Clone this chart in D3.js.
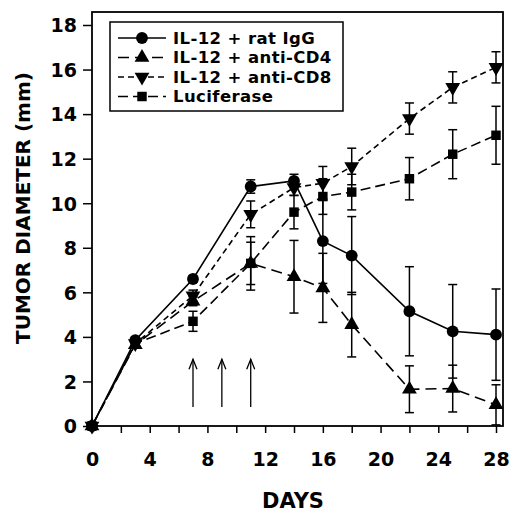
<!DOCTYPE html>
<html>
<head>
<meta charset="utf-8">
<script src="https://cdn.jsdelivr.net/npm/d3@7"></script>
<style>
  body { margin: 0; background: #fff; }
  svg text { font-family: "DejaVu Sans", "Liberation Sans", Arial, sans-serif; font-weight: bold; fill: #000; }
</style>
</head>
<body>
<div id="chart"></div>
<script>
const width = 509;
const height = 512;

// data (tumor diameter, mm)
const days = [0, 3, 7, 11, 14, 16, 18, 22, 25, 28];

const igg    = [0, 3.85, 6.6, 10.75, 11.0, 8.3, 7.65, 5.15, 4.25, 4.1];
const iggErr = [0, 0.15, 0.15, 0.3, 0.3, 1.9, 1.75, 2.0, 2.1, 2.05];

const cd4    = [0, 3.65, 5.6, 7.3, 6.7, 6.2, 4.55, 1.65, 1.68, 0.95];
const cd4Err = [0, 0.1, 0.2, 1.2, 1.63, 1.55, 1.45, 1.05, 1.05, 0.9];

const cd8    = [0, 3.7, 5.85, 9.5, 10.7, 10.9, 11.65, 13.8, 15.2, 16.1];
const cd8Err = [0, 0.1, 0.25, 0.6, 0.35, 0.75, 0.82, 0.7, 0.7, 0.7];

const luc    = [0, 3.7, 4.7, 7.3, 9.6, 10.3, 10.5, 11.1, 12.2, 13.05];
const lucErr = [0, 0.1, 0.45, 0.95, 0.75, 0.8, 0.8, 0.95, 1.1, 1.3];

const arrowDays = [7, 9, 11];
const yTicks = [0, 2, 4, 6, 8, 10, 12, 14, 16, 18];
const xTicks = [0, 2, 4, 6, 8, 10, 12, 14, 16, 18, 20, 22, 24, 26, 28];

const series = [
  { name: "IL-12 + rat IgG",  vals: igg, err: iggErr, sym: d3.symbolCircle,   size: 110, rot: 0,   dash: null },
  { name: "IL-12 + anti-CD4", vals: cd4, err: cd4Err, sym: d3.symbolTriangle, size: 95,  rot: 0,   dash: "11,6" },
  { name: "IL-12 + anti-CD8", vals: cd8, err: cd8Err, sym: d3.symbolTriangle, size: 95,  rot: 180, dash: "6,4" },
  { name: "Luciferase",       vals: luc, err: lucErr, sym: d3.symbolSquare,   size: 90,  rot: 0,   dash: "10,5" }
];

const frame = { left: 92, right: 503, top: 12, bottom: 426 };

const x = d3.scaleLinear().domain([0, 28]).range([92, 496]);
const y = d3.scaleLinear().domain([0, 18]).range([426, 25]);

const svg = d3.select("#chart").append("svg")
  .attr("width", width)
  .attr("height", height);

// axes
const yAxis = d3.axisLeft(y).tickValues(yTicks).tickSize(9).tickPadding(6).tickFormat(d3.format("d"));
const xAxis = d3.axisBottom(x).tickValues(xTicks).tickSize(7).tickPadding(20)
  .tickFormat(d => d % 4 === 0 ? d : "");

const gy = svg.append("g").attr("transform", `translate(${frame.left},0)`).call(yAxis);
const gx = svg.append("g").attr("transform", `translate(0,${frame.bottom})`).call(xAxis);

[gx, gy].forEach(g => {
  g.select(".domain").remove();
  g.selectAll(".tick line").attr("stroke", "#000").attr("stroke-width", 1.5);
  g.selectAll(".tick text").style("font-size", "19px").attr("fill", "#000");
});
gy.selectAll(".tick text").attr("dy", "0.36em");

// frame box
svg.append("rect")
  .attr("x", frame.left).attr("y", frame.top)
  .attr("width", frame.right - frame.left)
  .attr("height", frame.bottom - frame.top)
  .attr("fill", "none")
  .attr("stroke", "#000")
  .attr("stroke-width", 1.8);

// axis titles
svg.append("text")
  .attr("x", 293).attr("y", 508)
  .attr("text-anchor", "middle")
  .style("font-size", "21px")
  .text("DAYS");

svg.append("text")
  .attr("transform", "translate(30,208) rotate(-90)")
  .attr("text-anchor", "middle")
  .style("font-size", "20px")
  .text("TUMOR DIAMETER (mm)");

// treatment arrows
const arrows = svg.append("g").attr("stroke", "#000").attr("stroke-width", 1.3).attr("fill", "none");
arrowDays.forEach(d => {
  const ax = x(d), y0 = y(0.85), y1 = y(3.0);
  arrows.append("line").attr("x1", ax).attr("x2", ax).attr("y1", y0).attr("y2", y1);
  arrows.append("path").attr("d", `M${ax - 4},${y1 + 10}L${ax},${y1}L${ax + 4},${y1 + 10}`);
});

const line = d3.line().x((d, i) => x(days[i])).y(d => y(d));

// draw series back to front
series.slice().reverse().forEach(s => {
  const g = svg.append("g");

  g.append("path")
    .attr("d", line(s.vals))
    .attr("fill", "none")
    .attr("stroke", "#000")
    .attr("stroke-width", 1.6)
    .attr("stroke-dasharray", s.dash);

  const bars = g.selectAll(".err")
    .data(s.vals.map((v, i) => ({ v: v, e: s.err[i], d: days[i] })).filter(p => p.e > 0.12))
    .enter().append("g")
    .attr("stroke", "#000")
    .attr("stroke-width", 1.5);

  bars.append("line")
    .attr("x1", p => x(p.d)).attr("x2", p => x(p.d))
    .attr("y1", p => y(p.v - p.e)).attr("y2", p => y(p.v + p.e));
  bars.append("line")
    .attr("x1", p => x(p.d) - 4.5).attr("x2", p => x(p.d) + 4.5)
    .attr("y1", p => y(p.v + p.e)).attr("y2", p => y(p.v + p.e));
  bars.append("line")
    .attr("x1", p => x(p.d) - 4.5).attr("x2", p => x(p.d) + 4.5)
    .attr("y1", p => y(p.v - p.e)).attr("y2", p => y(p.v - p.e));

  g.selectAll(".pt")
    .data(s.vals)
    .enter().append("path")
    .attr("d", d3.symbol().type(s.sym).size(s.size))
    .attr("transform", (d, i) => `translate(${x(days[i])},${y(d)}) rotate(${s.rot})`)
    .attr("fill", "#000");
});

// legend
const legend = svg.append("g");
legend.append("rect")
  .attr("x", 110).attr("y", 22)
  .attr("width", 233).attr("height", 89)
  .attr("fill", "#fff")
  .attr("stroke", "#000")
  .attr("stroke-width", 1.5);

series.forEach((s, i) => {
  const ly = 38 + i * 19.5;
  legend.append("line")
    .attr("x1", 118).attr("x2", 166)
    .attr("y1", ly).attr("y2", ly)
    .attr("stroke", "#000")
    .attr("stroke-width", 1.6)
    .attr("stroke-dasharray", s.dash ? s.dash : null);
  legend.append("path")
    .attr("d", d3.symbol().type(s.sym).size(s.size))
    .attr("transform", `translate(142,${ly}) rotate(${s.rot})`)
    .attr("fill", "#000");
  legend.append("text")
    .attr("x", 173).attr("y", ly)
    .attr("dy", "0.36em")
    .style("font-size", "16.5px")
    .style("letter-spacing", "0.4px")
    .text(s.name);
});
</script>
</body>
</html>
